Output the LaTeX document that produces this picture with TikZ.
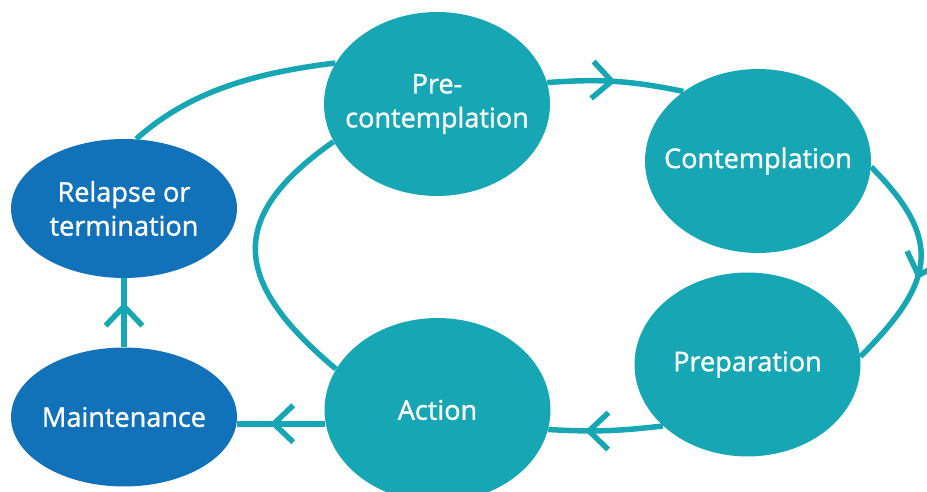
\documentclass[tikz,border=0pt]{standalone}
\usepackage{fontspec}
\setmainfont{Open Sans}[FakeBold=1.2]
\usepackage{tikz}
\usetikzlibrary{shapes.geometric, arrows.meta, decorations.markings}
\definecolor{stageteal}{HTML}{17A7B4}
\definecolor{stageblue}{HTML}{1172BA}
\tikzstyle{stage} = [ellipse, fill=stageteal, text=white, align=center, minimum width=4.52cm, minimum height=3.68cm, inner xsep=-0.6cm, inner ysep=0pt, font=\fontsize{15.4}{19.3}\selectfont]
\tikzstyle{exitstage} = [stage, fill=stageblue, minimum height=2.78cm]
\tikzstyle{link} = [color=stageteal, line width=0.11cm]
\tikzset{midarrow/.style={link, postaction={decorate}, decoration={markings, mark=at position #1 with {\arrow{Straight Barb[length=11pt,width=21pt]}}}}, midarrow/.default=0.5}

\begin{document}
\begin{tikzpicture}[x=0.02cm, y=-0.02cm]
    \useasboundingbox (0,0) rectangle (927,492);
    % Stage Ellipses
    \node [stage] (pre) at (437,104) {Pre-\\contemplation};
    \node [stage] (cont) at (758,161) {Contemplation};
    \node [stage] (prep) at (747.5,364.5) {Preparation};
    \node [stage] (action) at (437.5,410) {Action};
    \node [exitstage] (relapse) at (124,208.5) {Relapse or\\termination};
    \node [exitstage] (maint) at (124,417) {Maintenance};

    % Cycle Connectors
    \draw [midarrow] (pre.11) to[bend left=8] (cont.137);
    \draw [midarrow=0.57] (cont.-3) to[out=-45, in=45, looseness=1.4] (prep.4);
    \draw [midarrow=0.68] (prep.216) to[bend left=5] (action.350);
    \draw [link] (pre.200) to[out=215, in=140, looseness=1.5] (action.158);

    % Exit Path
    \draw [midarrow=0.63] (action.187) -- (action.187 -| maint.east);
    \draw [midarrow=0.65] (maint.north) -- (relapse.south);
    \draw [link] (relapse.80) to[out=42, in=187, looseness=0.9] (pre.158);
\end{tikzpicture}
\end{document}
